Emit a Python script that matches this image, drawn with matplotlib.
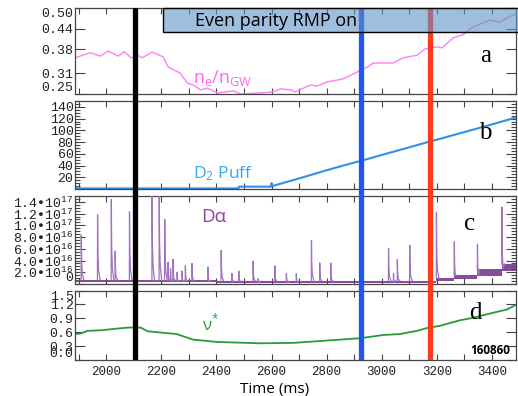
import numpy as np
import matplotlib
matplotlib.use("Agg")
import matplotlib.pyplot as plt
from matplotlib.patches import Rectangle
from matplotlib.ticker import MultipleLocator, FixedLocator

plt.rcParams["font.family"] = ["Liberation Mono", "DejaVu Sans"]

# ----- datos -----
t_ne = [1886, 1942, 1978, 2007, 2043, 2065, 2090, 2112, 2130, 2166, 2206, 2225, 2268,
        2294, 2316, 2342, 2367, 2403, 2462, 2487, 2560, 2606, 2632, 2668, 2686, 2741,
        2766, 2802, 2860, 2911, 2947, 2969, 3041, 3077, 3129, 3158, 3201, 3219, 3259,
        3295, 3332, 3393, 3429, 3455, 3488]
ne = [0.355, 0.370, 0.360, 0.375, 0.360, 0.373, 0.355, 0.363, 0.355, 0.372, 0.358, 0.328,
      0.311, 0.282, 0.276, 0.262, 0.267, 0.253, 0.259, 0.250, 0.253, 0.256, 0.265, 0.262,
      0.256, 0.276, 0.273, 0.285, 0.294, 0.314, 0.328, 0.340, 0.340, 0.355, 0.363, 0.381,
      0.387, 0.384, 0.413, 0.422, 0.445, 0.465, 0.459, 0.471, 0.483]

t_puff = [1886, 2480, 2481, 2598, 2600, 2603, 2610, 2700, 2800, 2900, 2925,
          3000, 3100, 3175, 3200, 3300, 3400, 3488]
puff = [1, 1, 4, 4, 10, 5, 6, 18, 32, 45, 48, 58, 71, 81, 84, 97, 110, 122]

# ELMs en D-alpha (unidades de 1e16)
elm_t = [1909, 1968, 2018, 2032, 2084, 2166, 2192, 2212, 2224, 2233, 2242, 2257, 2275,
         2287, 2311, 2369, 2417, 2456, 2481, 2533, 2551, 2612, 2654, 2690, 2745, 2775,
         2815, 3025, 3043, 3057, 3102, 3199, 3264, 3348, 3437]
elm_pk = [8.3, 11.8, 14.4, 5.6, 12.3, 16.0, 16.0, 11.0, 3.7, 2.6, 4.2, 2.0, 2.2,
          3.1, 3.5, 2.9, 5.7, 1.8, 2.2, 3.9, 0.9, 3.1, 1.8, 1.8, 7.4, 3.6,
          3.6, 6.1, 1.8, 4.2, 6.6, 12.2, 7.2, 6.8, 13.1]
base_t = [1886, 2000, 2160, 2400, 2600, 3000, 3199, 3264, 3348, 3437, 3488]
base_lo = [0.4, 0.35, 0.3, 0.25, 0.2, 0.25, 0.5, 0.8, 1.4, 2.2, 2.2]
base_hi = [0.75, 0.7, 0.6, 0.5, 0.45, 0.55, 1.0, 1.5, 2.5, 3.4, 3.4]

t_nu = [1886, 1906, 1931, 1978, 2025, 2080, 2124, 2150, 2255, 2315, 2400, 2560, 2680,
        2802, 2922, 3006, 3066, 3129, 3165, 3213, 3286, 3332, 3405, 3455, 3488]
nu = [0.56, 0.57, 0.63, 0.64, 0.67, 0.70, 0.70, 0.62, 0.56, 0.44, 0.39, 0.36, 0.37,
      0.42, 0.47, 0.54, 0.56, 0.63, 0.69, 0.74, 0.86, 0.91, 1.02, 1.09, 1.19]

t_marks = [2105, 2925, 3175]
mark_colors = ["black", "#1f55f0", "#ff3a1c"]
rmp_on = 2205
xlim = (1886, 3488)

# ----- figura -----
W, H = 518, 396
fig = plt.figure(figsize=(W / 100, H / 100), dpi=100)
L, R = 75 / W, 516 / W


def panel(top, bot):
    return fig.add_axes([L, 1 - bot / H, R - L, (bot - top) / H])


ax_a = panel(8, 94)
ax_b = panel(101, 189)
ax_c = panel(196, 284)
ax_d = panel(290.5, 360)
axes = [ax_a, ax_b, ax_c, ax_d]

for ax in axes:
    ax.set_xlim(xlim)
    ax.xaxis.set_major_locator(MultipleLocator(200))
    ax.xaxis.set_minor_locator(MultipleLocator(100))
    for s in ax.spines.values():
        s.set_color("#444444")
        s.set_linewidth(0.9)
    ax.tick_params(which="both", direction="in", top=True, right=True, colors="#444444",
                   labelcolor="#222222", width=0.8)
    ax.tick_params(axis="x", which="both", length=4, labelsize=9, pad=4)
    ax.tick_params(axis="y", which="major", length=7, labelsize=9.5, pad=1)
    ax.tick_params(axis="y", which="minor", length=3.5)
    if ax is not ax_d:
        ax.tick_params(axis="x", labelbottom=False)

# a: densidad
ax_a.plot(t_ne, ne, color="#ff7ff5", lw=1)
ax_a.set_ylim(0.25, 0.50)
ax_a.set_yticks([0.25, 0.31, 0.38, 0.44, 0.50])
ax_a.set_yticklabels(["0.25", "0.31", "0.38", "0.44", "0.50"])
ax_a.text(2424, 0.296, r"$\mathregular{n_e/n_{GW}}$", color="#ff66ee", fontsize=13,
          family="Open Sans", ha="center", va="center")
ax_a.text(3378, 0.36, "a", family="Liberation Serif", fontsize=18, ha="center", va="center")

# b: puff de D2
ax_b.plot(t_puff, puff, color="#3090e8", lw=1.5)
ax_b.set_ylim(0, 150)
ax_b.set_yticks(np.arange(20, 141, 20))
ax_b.yaxis.set_minor_locator(MultipleLocator(5))
ax_b.text(2424, 27, r"D$\mathregular{_2}$ Puff", color="#30a8f0", fontsize=12.5,
          family="Open Sans", ha="center", va="center")
ax_b.text(3378, 95, "b", family="Liberation Serif", fontsize=18, ha="center", va="center")

# c: D-alpha
e16 = 1e16
ax_c.fill_between(base_t, np.array(base_lo) * e16, np.array(base_hi) * e16, step="post",
                  color="#7a3a90", lw=0, alpha=0.9, zorder=2)
for t, pk in zip(elm_t, elm_pk):
    b0 = base_hi[np.searchsorted(base_t, t, side="right") - 1]
    ax_c.plot([t - 0.6, t, t + 1.2, t + 3.5, t + 9],
              np.array([b0, pk, 0.45 * pk, 0.2 * pk, b0]) * e16,
              color="#a074bf", lw=0.9, zorder=3)
ax_c.set_ylim(0, 1.5e17)
c_ticks = np.arange(0, 1.41e17, 2e16)
c_labels = ["0"]
for v in c_ticks[1:]:
    ex = int(np.floor(np.log10(v)))
    c_labels.append("%.1f\u2022" % (v / 10 ** ex) + "10$^{\\mathregular{%d}}$" % ex)
ax_c.yaxis.set_major_locator(FixedLocator(c_ticks))
ax_c.set_yticklabels(c_labels)
ax_c.yaxis.set_minor_locator(MultipleLocator(0.5e16))
ax_c.text(2388, 11.5e16, "D\u03b1", color="#9040a0", fontsize=13.5, family="Open Sans",
          ha="center", va="center")
ax_c.text(3320, 10.2e16, "c", family="Liberation Serif", fontsize=18, ha="center", va="center")

# d: colisionalidad
ax_d.plot(t_nu, nu, color="#2a9a35", lw=1.3)
ax_d.set_ylim(0, 1.5)
ax_d.set_yticks([0.0, 0.3, 0.6, 0.9, 1.2, 1.5])
ax_d.set_yticklabels(["0.0", "0.3", "0.6", "0.9", "1.2", "1.5"])
ax_d.text(2380, 0.80, "\u03bd$^{\\mathregular{*}}$", color="#2aa02a", fontsize=12,
          family="Open Sans", ha="center", va="center")
ax_d.text(3339, 1.02, "d", family="Liberation Serif", fontsize=18, ha="center", va="center")
ax_d.text(0.986, 0.13, "160860", transform=ax_d.transAxes, fontsize=8.5, weight="bold",
          family="Open Sans", ha="right", va="center")
ax_d.set_xlabel("Time (ms)", family="Open Sans", fontsize=11, va="center")
ax_d.xaxis.set_label_coords((275 - 75) / 441, -(389 - 360) / 69.5)

# etiquetas de los extremos hacia dentro
for ax in [ax_a, ax_c, ax_d]:
    labs = ax.get_yticklabels()
    labs[0].set_verticalalignment("bottom")
    if ax is not ax_c:
        labs[-1].set_verticalalignment("top")

# ----- lineas verticales y caja RMP -----
ov = fig.add_axes([L, 1 - 360 / H, R - L, (360 - 8) / H])
ov.set_xlim(xlim)
ov.set_ylim(0, 1)
ov.axis("off")
for t, c in zip(t_marks, mark_colors):
    ov.axvline(t, color=c, lw=3.8)
box = Rectangle((rmp_on, 0.430), 3500 - rmp_on, 0.07, transform=ax_a.transData,
                facecolor="#5d94c6", alpha=0.6, edgecolor="none", clip_on=False, zorder=5)
ov.add_patch(box)
box_edge = Rectangle((rmp_on, 0.430), 3500 - rmp_on, 0.07, transform=ax_a.transData,
                     facecolor="none", edgecolor="black", lw=1, clip_on=False, zorder=6)
ov.add_patch(box_edge)
ov.text(2321, 0.462, "Even parity RMP on", transform=ax_a.transData, family="Open Sans",
        fontsize=13, ha="left", va="center", zorder=7)

fig.savefig("out.png", dpi=100)
